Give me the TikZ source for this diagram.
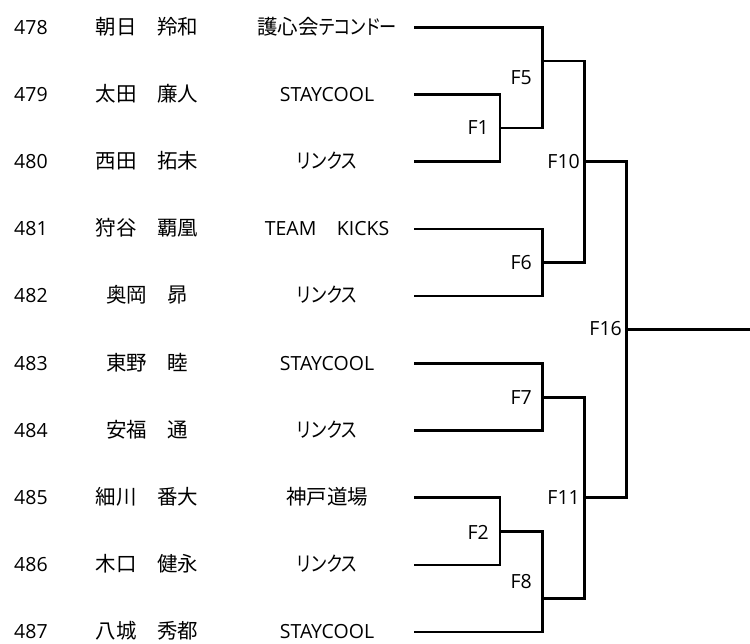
\documentclass[tikz,border=0pt]{standalone}
\usepackage{fontspec}
\setmainfont{Open Sans}
\newfontfamily\jp[Scale=1.05]{Noto Sans CJK JP}
\newfontfamily\kana[Scale=1.05,RawFeature=+palt,FakeStretch=0.84]{Noto Sans CJK JP}
\begin{document}
\begin{tikzpicture}[x=1pt,y=-1pt,
  txt/.style={inner sep=0pt,anchor=base,font=\fontsize{19.5}{23}\selectfont},
  num/.style={txt,anchor=base west},
  lbl/.style={inner sep=0pt,anchor=east,font=\fontsize{19.5}{23}\selectfont},
  br/.style={line width=2.6pt,line join=miter}]
\useasboundingbox (0,0) rectangle (750,643);
% rows
\foreach \n/\nm/\tm [count=\k from 0] in {
 478/{\jp 朝日　羚和}/{{\jp 護心会}\kana テコンドー},
 479/{\jp 太田　廉人}/{STAYCOOL},
 480/{\jp 西田　拓未}/{\kana リンクス},
 481/{\jp 狩谷　覇凰}/{TEAM{\jp　}KICKS},
 482/{\jp 奥岡　昴}/{\kana リンクス},
 483/{\jp 東野　睦}/{STAYCOOL},
 484/{\jp 安福　通}/{\kana リンクス},
 485/{\jp 細川　番大}/{\jp 神戸道場},
 486/{\jp 木口　健永}/{\kana リンクス},
 487/{\jp 八城　秀都}/{STAYCOOL}}{
  \pgfmathsetmacro\yy{27.3+67.2*\k}
  \node[num] (n\n) at (14,\yy+6.8) {\n};
  \node[txt] (p\n) at (147,\yy+6.8) {\nm};
  \node[txt] (t\n) at (327,\yy+6.8) {\tm};
  \coordinate (s\n) at (414,\yy);
}
% joints
\coordinate (j1) at (500,128.1);
\coordinate (j2) at (500,531.3);
\coordinate (j5) at (542.7,61);
\coordinate (j6) at (542.7,262.5);
\coordinate (j7) at (542.7,397.7);
\coordinate (j8) at (542.7,598.5);
\coordinate (j10) at (584.3,161.7);
\coordinate (j11) at (584.3,497.7);
\coordinate (j16) at (626.7,329.4);
\coordinate (fin) at (750,329.4);
% brackets
\draw[br] (s479) -| (j1) |- (s480);
\draw[br] (s478) -| (j5) |- (j1);
\draw[br] (s481) -| (j6) |- (s482);
\draw[br] (j5) -| (j10) |- (j6);
\draw[br] (s483) -| (j7) |- (s484);
\draw[br] (s485) -| (j2) |- (s486);
\draw[br] (j2) -| (j8) |- (s487);
\draw[br] (j7) -| (j11) |- (j8);
\draw[br] (j10) -| (j16) |- (j11);
\draw[br] (j16) -- (fin);
% labels
\node[lbl] (lF1) at (489,128) {F1};
\node[lbl] (lF5) at (532,78) {F5};
\node[lbl] (lF6) at (532,263) {F6};
\node[lbl] (lF10) at (580,162) {F10};
\node[lbl] (lF16) at (622,329) {F16};
\node[lbl] (lF7) at (532,398) {F7};
\node[lbl] (lF11) at (580,498) {F11};
\node[lbl] (lF2) at (489,532) {F2};
\node[lbl] (lF8) at (532,582) {F8};
\end{tikzpicture}
\end{document}
